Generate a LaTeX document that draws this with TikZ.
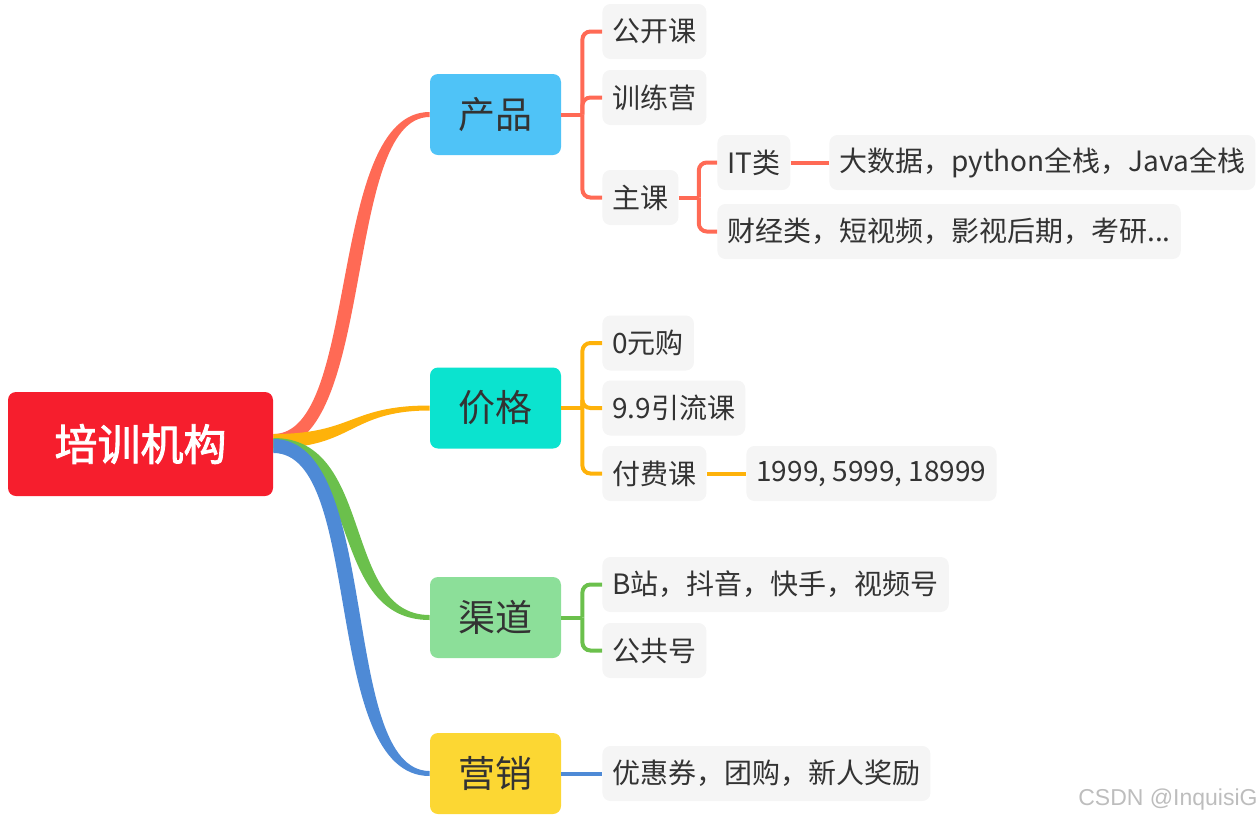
\documentclass[tikz,border=0pt]{standalone}
\usepackage{fontspec}
\setmainfont{Noto Sans CJK SC}[AutoFakeBold=2]
\newfontfamily\markfont{Liberation Sans}
\usetikzlibrary{calc}
\definecolor{ink}{HTML}{333333}
\definecolor{rootred}{HTML}{F61E2D}
\definecolor{prodblue}{HTML}{4FC3F7}
\definecolor{priceteal}{HTML}{0BE3CF}
\definecolor{changreen}{HTML}{8CDF99}
\definecolor{mktyellow}{HTML}{FCD733}
\definecolor{coral}{HTML}{FF6A55}
\definecolor{amber}{HTML}{FEB20A}
\definecolor{leafgreen}{HTML}{6BC04C}
\definecolor{skyblue}{HTML}{4E8AD6}
\definecolor{leafgrey}{HTML}{F5F5F5}
\definecolor{markgrey}{HTML}{BDBDBD}

\newcommand{\limb}[5]{%
  \fill[#1] ($(root.east)+(0,{#3-7})$)
    .. controls ($(root.east)+({#4+(#5)},{#3-7})$) and ($(#2.west)+({-(#4)+(#5)},-2.5)$) .. ($(#2.west)+(0,-2.5)$)
    -- ($(#2.west)+(0,2.5)$)
    .. controls ($(#2.west)+({-(#4)-(#5)},2.5)$) and ($(root.east)+({#4-(#5)},{#3+7})$) .. ($(root.east)+(0,{#3+7})$) -- cycle;}

\begin{document}
\begin{tikzpicture}[
  x=0.5pt, y=-0.5pt,
  every node/.style={text=ink,inner sep=0pt},
  rootbox/.style={fill=rootred,rounded corners=4pt,minimum width=132.5pt,minimum height=52pt,
    text=white,font=\fontsize{21.5}{26}\selectfont\bfseries},
  cat/.style={rounded corners=4pt,minimum width=65.5pt,minimum height=40.5pt,
    font=\fontsize{18.5}{22}\selectfont},
  leaf/.style={fill=leafgrey,rounded corners=4pt,anchor=west,inner xsep=5pt,
    minimum height=27.5pt,font=\fontsize{14}{17}\selectfont},
  twig/.style={line width=2pt},
  elbow/.style={line width=2pt,rounded corners=4pt}
]
\useasboundingbox (0,0) rectangle (1260,821);

\node[rootbox] (root) at (140.5,444) {培训机构};
\node[cat,fill=prodblue] (prod) at (495.5,114.5) {产品};
\node[cat,fill=priceteal] (price) at (495.5,408) {价格};
\node[cat,fill=changreen] (chan) at (495.5,617.5) {渠道};
\node[cat,fill=mktyellow] (mkt) at (495.5,773.5) {营销};

\node[leaf] (open) at (602,31.5) {公开课};
\node[leaf] (camp) at (602,97.5) {训练营};
\node[leaf] (main) at (602,197.5) {主课};
\node[leaf] (itcls) at (717,162.5) {IT类};
\node[leaf] (itlist) at (829,162.5) {大数据，python全栈，Java全栈};
\node[leaf] (other) at (717,231.5) {财经类，短视频，影视后期，考研...};

\node[leaf] (free) at (602,343) {0元购};
\node[leaf] (lead) at (602,408) {9.9引流课};
\node[leaf] (paid) at (602,473.5) {付费课};
\node[leaf] (fees) at (746,473.5) {1999, 5999, 18999};

\node[leaf] (video) at (602,584.5) {B站，抖音，快手，视频号};
\node[leaf] (pub) at (602,650.5) {公共号};

\node[leaf] (promo) at (602,773.5) {优惠券，团购，新人奖励};

\limb{coral}{prod}{-3}{95}{-8}
\limb{amber}{price}{-3}{80}{0}
\limb{leafgreen}{chan}{1}{95}{7}
\limb{skyblue}{mkt}{2}{100}{9}

\coordinate (jprod) at ($(prod.east)+(21,0)$);
\coordinate (jmain) at ($(main.east)+(20,0)$);
\coordinate (jprice) at ($(price.east)+(21,0)$);
\coordinate (jchan) at ($(chan.east)+(21,0)$);

\draw[twig,coral] (prod.east) -- (jprod);
\draw[elbow,coral] (jprod) |- (open.west);
\draw[elbow,coral] (jprod) |- (camp.west);
\draw[elbow,coral] (jprod) |- (main.west);
\draw[twig,coral] (main.east) -- (jmain);
\draw[elbow,coral] (jmain) |- (itcls.west);
\draw[elbow,coral] (jmain) |- (other.west);
\draw[twig,coral] (itcls.east) -- (itlist.west);

\draw[twig,amber] (price.east) -- (jprice);
\draw[elbow,amber] (jprice) |- (free.west);
\draw[elbow,amber] (jprice) |- (lead.west);
\draw[elbow,amber] (jprice) |- (paid.west);
\draw[twig,amber] (paid.east) -- (fees.west);

\draw[twig,leafgreen] (chan.east) -- (jchan);
\draw[elbow,leafgreen] (jchan) |- (video.west);
\draw[elbow,leafgreen] (jchan) |- (pub.west);

\draw[twig,skyblue] (mkt.east) -- (promo.west);

\node[anchor=east,text=markgrey,font=\markfont\fontsize{11.5}{14}\selectfont] (mark) at (1258,800) {CSDN @InquisiG};
\end{tikzpicture}
\end{document}
